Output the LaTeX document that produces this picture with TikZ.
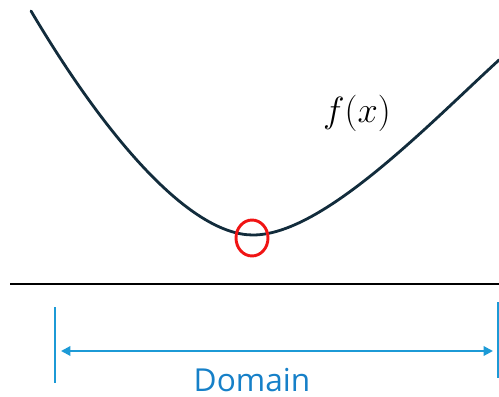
\documentclass[tikz,border=0pt]{standalone}
\usepackage{amsmath}
\usepackage{fontspec}
\usepackage{tikz}
\usetikzlibrary{arrows.meta,positioning,calc}
\newfontfamily\domfont{Open Sans}
\definecolor{cCurve}{RGB}{18,44,60}
\definecolor{cDom}{RGB}{28,154,214}
\definecolor{cDomTxt}{RGB}{22,128,200}
\definecolor{cMark}{RGB}{240,20,20}
\tikzset{
	fcurve/.style={draw=cCurve,line width=2.4pt,line cap=round},
	baseax/.style={draw=black,line width=2.5pt},
	dbar/.style={draw=cDom,line width=1.8pt},
	darr/.style={{Triangle[length=8pt,width=8pt]}-{Triangle[length=8pt,width=8pt]},
		draw=cDom,fill=cDom,line width=1.8pt},
	minmark/.style={draw=cMark,line width=2.5pt},
}

\begin{document}
\begin{tikzpicture}[x=0.03cm,y=-0.03cm]
			\useasboundingbox (0,0) rectangle (499,397);
			% the function
			\coordinate (ftop) at (31,11);
			\coordinate (fmin) at (253,235);
			\coordinate (fend) at (499,60);
			\draw[fcurve] (ftop) .. controls (111,146) and (193,235) .. (fmin)
				.. controls (323,235) and (429,124) .. (fend);
			\node[scale=1.25] (flabel) at (357,113) {\Huge$f(x)$};
			% minimum
			\coordinate (xmin) at (252,238);
			\draw[minmark] (xmin) ellipse (16 and 18);
			% axis
			\coordinate (axl) at (10,284);
			\coordinate (axr) at (499,284);
			\draw[baseax] (axl) -- (axr);
			% domain
			\coordinate (dl) at (55,307);
			\coordinate (dr) at (498,302);
			\draw[dbar] (dl) -- ++(0,76);
			\draw[dbar] (dr) -- ++(0,76);
			\coordinate (al) at (61,351);
			\coordinate (ar) at (493,351);
			\draw[darr] (al) -- (ar);
			\node[anchor=base,text=cDomTxt,inner sep=0pt] (dom) at (252,391)
				{\domfont\fontsize{27}{27}\selectfont Domain};
		\end{tikzpicture}
\end{document}
